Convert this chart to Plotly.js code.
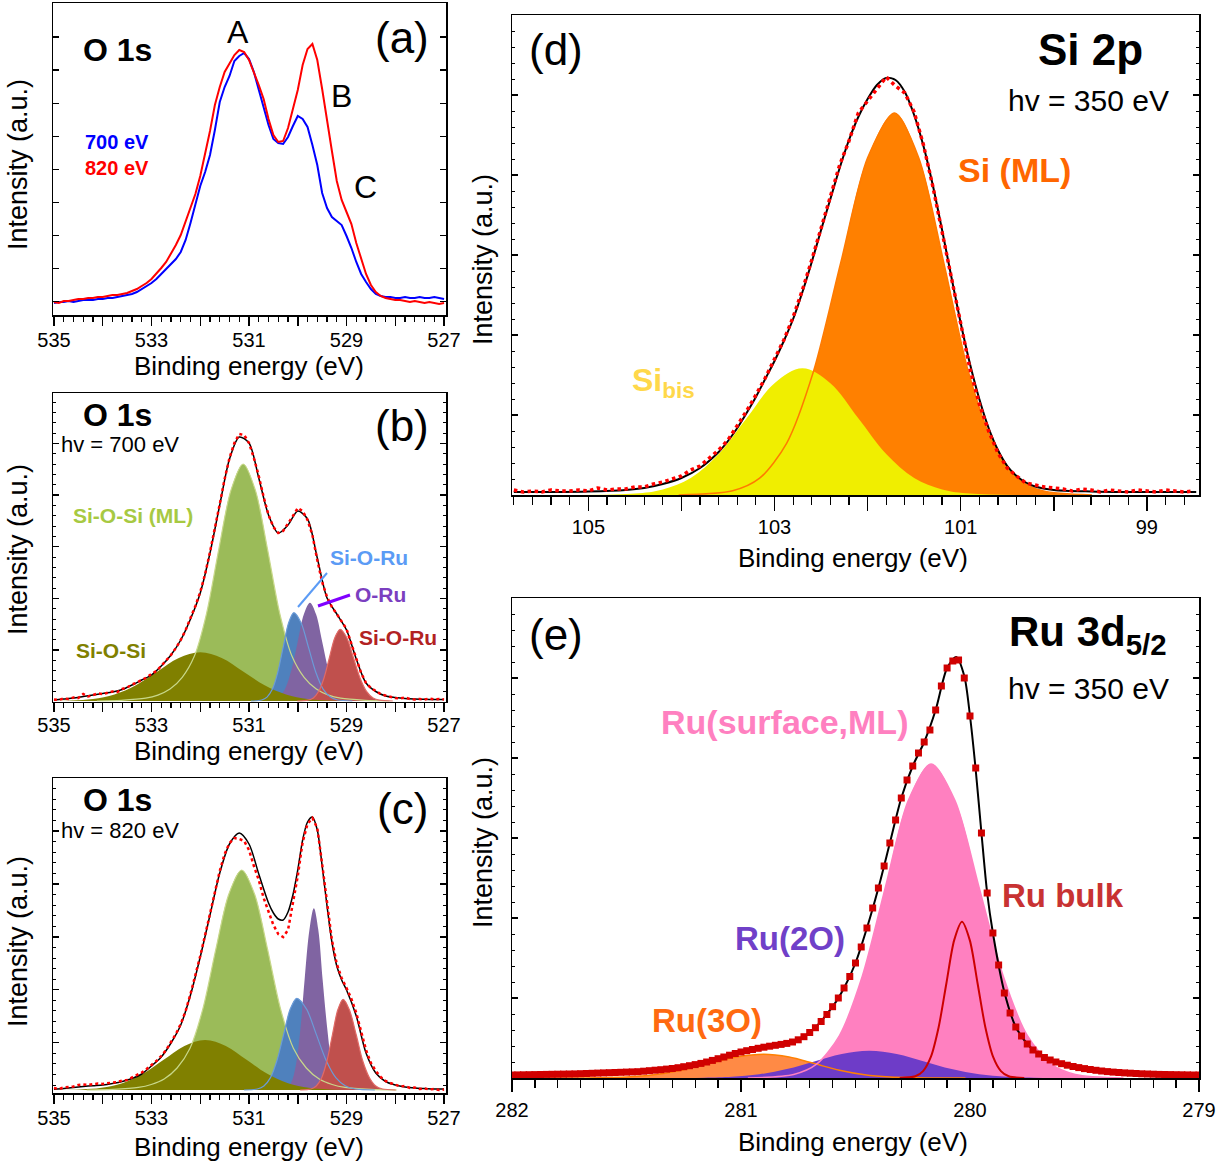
<!DOCTYPE html>
<html>
<head>
<meta charset="utf-8">
<script src="https://cdn.plot.ly/plotly-3.0.1.min.js"></script>
<style>html,body{margin:0;padding:0;background:#fff;}#chart{width:1228px;height:1164px;}</style>
</head>
<body>
<div id="chart"></div>
<script>
// ---------------- DATA ----------------
// O 1s binding-energy grid (eV)
const o1sE = [535,534.9,534.8,534.7,534.6,534.5,534.4,534.3,534.2,534.1,534,533.9,533.8,533.7,533.6,533.5,533.4,533.3,533.2,533.1,533,532.9,532.8,532.7,532.6,532.5,532.4,532.3,532.2,532.1,532,531.9,531.8,531.7,531.6,531.5,531.4,531.3,531.2,531.1,531,530.9,530.8,530.7,530.6,530.5,530.4,530.3,530.2,530.1,530,529.9,529.8,529.7,529.6,529.5,529.4,529.3,529.2,529.1,529,528.9,528.8,528.7,528.6,528.5,528.4,528.3,528.2,528.1,528,527.9,527.8,527.7,527.6,527.5,527.4,527.3,527.2,527.1,527];
// (a) raw spectra
const a_700eV = [12,13,13,14,13,14,15,15,15,16, 16,17,17,18,19,20,21,23,26,29, 32,36,41,47,51,56,63,75,92,110, 129,143,160,185,213,228,239,254,259,262, 256,243,226,207,190,176,172,171,178,189, 199,196,188,170,150,122,107,98,94,90, 79,67,53,41,33,26,21,19,18,18, 17,17,18,17,17,18,17,17,18,17,16];
const a_820eV = [13,12,14,14,15,16,16,17,17,18, 18,19,20,20,21,22,24,26,29,32, 36,41,47,53,61,70,80,93,106,121, 139,160,184,210,228,243,251,260,265,263, 255,243,230,216,196,180,173,174,187,206, 225,250,266,271,255,226,197,164,134,115, 103,91,72,56,41,30,23,19,17,16, 15,15,14,13,14,13,12,13,12,11,12];
// (b) hv = 700 eV : data and fit
const b_data = [1.5,1,2.5,2,3.5,3,7,4.5,6,7.5, 7,8.5,9.5,9,12,13.5,16.5,18.5,21,23.5, 27,30,35,40,46,53,61,71,83,95, 109,127,149,172,197,222,243,258,267,266, 258,243,225,204,186,174,168,170,177,185, 193,190,181,166,141,119,104,94,87,80, 72,57,42,28,18,13,10,7,5.5,4, 3,2.5,3.5,2,1.5,2,1.5,2.5,1.5,2,1.5];
const b_fitE = [535,534.8,534.6,534.4,534.2,534,533.8,533.6,533.4,533.2,533,532.8,532.6,532.4,532.2,532,531.8,531.6,531.4,531.2,531,530.8,530.6,530.4,530.2,530,529.8,529.6,529.4,529.2,529,528.8,528.6,528.4,528.2,528,527.8,527.6,527.4,527.2,527];
const b_fit = [1,2,3,4.5,6,7.5,9,11.5,16,21,26,35,46,61,82,108,148,196,242,264,258,223,186,168,176,190,182,143,103,87,71,42,18,9.5,5,3.5,2.5,2,1.7,1.5,1.5];
const b_SiOSiML_E = [528.12,528.62,529.12,529.37,529.62,529.87,530.12,530.37,530.62,530.87,531.12,531.37,531.62,531.87,532.12,532.37,532.62,532.87,533.12,533.62,534.12];
const b_SiOSiML   = [0,0.7,2.8,5.9,11.9,23.7,45,87.7,151.7,210.9,237,210.9,151.7,87.7,45,23.7,11.9,5.9,2.8,0.7,0];
const b_SiOSi_E = [528.48,529.36,529.8,530.24,530.68,531.12,531.56,532,532.44,532.88,533.32,533.76,534.2,534.64,535.52];
const b_SiOSi   = [0,0.5,2.1,6.6,15.8,29.5,43,48.7,43,29.5,15.8,6.6,2.1,0.5,0];
const b_SiORu1_E = [528.88,529.18,529.33,529.48,529.63,529.78,529.93,530.08,530.19,530.3,530.41,530.52,530.63,530.74,530.96];
const b_SiORu1   = [0,1,3.9,11.9,28.7,53.6,77.9,88.3,77.9,53.6,28.7,11.9,3.9,1,0];
const b_ORu_E = [528.75,529,529.125,529.25,529.375,529.5,529.625,529.75,529.875,530,530.125,530.25,530.375,530.5,530.75];
const b_ORu   = [0,1.1,4.3,13.3,31.9,59.6,86.7,98.3,86.7,59.6,31.9,13.3,4.3,1.1,0];
const b_SiORu2_E = [528.05,528.32,528.455,528.59,528.725,528.86,528.995,529.13,529.24,529.35,529.46,529.57,529.68,529.79,530.01];
const b_SiORu2   = [0,0.8,3.1,9.7,23.3,43.5,63.3,71.7,63.3,43.5,23.3,9.7,3.1,0.8,0];
// (c) hv = 820 eV : data and fit
const c_data = [2,1,2.5,3,3.5,5,5.5,5,6,6.5, 6,7,7.5,8,9.5,10,12.5,15,17.5,21, 25,29,34,40,48,56,66,79,96,114, 134,155,177,198,219,236,247,252,251,249, 240,224,210,192,178,165,156,153,160,186, 214,248,266,272,262,226,186,150,126,112, 102,91,77,58,40,27,19,13,9,7, 5.5,3.5,4,2,2.5,1,1.5,0.5,1,0,0.5];
const c_fitE = [535,534.8,534.6,534.4,534.2,534,533.8,533.6,533.4,533.2,533,532.8,532.6,532.4,532.2,532,531.8,531.6,531.4,531.2,531,530.8,530.6,530.5,530.4,530.3,530.2,530.1,530,529.9,529.8,529.7,529.6,529.5,529.4,529.3,529.2,529.1,529,528.8,528.6,528.4,528.2,528,527.8,527.6,527.4,527.2,527];
const c_fit = [0.7,1.5,2.5,3.5,4.3,5,6.5,8.5,11.5,16,24,33,47,65,95,133,175,217,246,257,246,216,187,177,171,170,178,195,220,250,268,273,260,224,184,148,124,110,100,74,37,17,8.5,5,3,2,1.5,1,1];
const c_SiOSiML_E = [527.97,528.5,529.03,529.295,529.56,529.825,530.09,530.355,530.62,530.885,531.15,531.415,531.68,531.945,532.21,532.475,532.74,533.005,533.27,533.8,534.33];
const c_SiOSiML   = [0,0.7,2.6,5.5,11,22,41.8,81.4,140.8,195.8,220,195.8,140.8,81.4,41.8,22,11,5.5,2.6,0.7,0];
const c_SiOSi_E = [528.5,529.35,529.775,530.2,530.625,531.05,531.475,531.9,532.325,532.75,533.175,533.6,534.025,534.45,535.3];
const c_SiOSi   = [0,0.6,2.2,6.8,16.2,30.3,44.1,50,44.1,30.3,16.2,6.8,2.2,0.6,0];
const c_SiORu1_E = [528.42,528.82,529.02,529.22,529.42,529.62,529.82,530.02,530.155,530.29,530.425,530.56,530.695,530.83,531.1];
const c_SiORu1   = [0,1,4,12.4,29.8,55.6,80.9,91.7,80.9,55.6,29.8,12.4,4,1,0];
const c_ORu_E = [528.93,529.12,529.21,529.3,529.39,529.49,529.58,529.67,529.76,529.86,529.95,530.04,530.13,530.23,530.41];
const c_ORu   = [0,2,8,24.6,59,110.2,160.4,181.7,160.4,110.2,59,24.6,8,2,0];
const c_SiORu2_E = [527.99,528.26,528.4,528.53,528.67,528.8,528.94,529.07,529.18,529.29,529.4,529.51,529.62,529.73,529.95];
const c_SiORu2   = [0,1,4,12.3,29.5,55,80,90.7,80,55,29.5,12.3,4,1,0];
// (d) Si 2p
const d_E = [105.8,105.7,105.6,105.5,105.4,105.3,105.2,105.1,105,104.9,104.8,104.7,104.6,104.5,104.4,104.3,104.2,104.1,104,103.9,103.8,103.7,103.6,103.5,103.4,103.3,103.2,103.1,103,102.9,102.8,102.7,102.6,102.5,102.4,102.3,102.2,102.1,102,101.9,101.8,101.7,101.6,101.5,101.4,101.3,101.2,101.1,101,100.9,100.8,100.7,100.6,100.5,100.4,100.3,100.2,100.1,100,99.9,99.8,99.7,99.6,99.5,99.4,99.3,99.2,99.1,99,98.9,98.8,98.7,98.6,98.5];
const d_data = [5,3,4,3,5,4,4,5,4,7, 5,6,6,8,8,11,13,16,19,25, 29,37,45,55,69,84,100,117,136,155, 178,205,235,266,299,330,354,382,394,406, 418,409,402,383,350,309,263,216,168,126, 91,64,42,27,19,12,10,8,7,6, 4,6,5,3,5,4,3,5,4,3, 5,4,3,4];
const d_fitE = [105.8,105.4,105,104.6,104.4,104.2,104,103.8,103.6,103.5,103.4,103.3,103.2,103.1,103,102.9,102.8,102.7,102.6,102.5,102.4,102.3,102.2,102.1,102,101.9,101.8,101.7,101.6,101.5,101.4,101.3,101.2,101.1,101,100.9,100.8,100.7,100.6,100.5,100.4,100.3,100.2,100,99.6,99.2,98.8,98.47];
const d_fit = [3,3,3.5,5,7,11,17,27,43,54,67,82,98,116,134,154,176,203,233,265,296,327,355,378,396,410,417,415,403,380,349,310,265,218,172,131,96,67,45,29,19,12.5,8.5,5,3.5,3,3,3];
const d_SiML_E = [99.59,100.12,100.39,100.65,100.92,101.18,101.45,101.71,102,102.29,102.58,102.87,103.16,103.45,104.03];
const d_SiML   = [0,4.2,16.8,51.7,124,231.7,337.1,382,337.1,231.7,124,51.7,16.8,4.2,0];
const d_Sibis_E = [100.3,100.9,101.2,101.5,101.8,102.1,102.4,102.7,103,103.3,103.6,103.9,104.2,104.5,105.1];
const d_Sibis   = [0,1.4,5.6,17.1,41.1,76.8,111.8,126.7,111.8,76.8,41.1,17.1,5.6,1.4,0];
// (e) Ru 3d5/2
const e_E = [282,281.975,281.95,281.925,281.9,281.875,281.85,281.825,281.8,281.775,
281.75,281.725,281.7,281.675,281.65,281.625,281.6,281.575,281.55,281.525,
281.5,281.475,281.45,281.425,281.4,281.375,281.35,281.325,281.3,281.275,
281.25,281.225,281.2,281.175,281.15,281.125,281.1,281.075,281.05,281.025,
281,280.975,280.95,280.925,280.9,280.875,280.85,280.825,280.8,280.775,
280.75,280.725,280.7,280.675,280.65,280.625,280.6,280.575,280.55,280.525,
280.5,280.475,280.45,280.425,280.4,280.375,280.35,280.325,280.3,280.275,
280.25,280.225,280.2,280.175,280.15,280.125,280.1,280.075,280.05,280.025,
280,279.975,279.95,279.925,279.9,279.875,279.85,279.825,279.8,279.775,
279.75,279.725,279.7,279.675,279.65,279.625,279.6,279.575,279.55,279.525,
279.5,279.475,279.45,279.425,279.4,279.375,279.35,279.325,279.3,279.275,
279.25,279.225,279.2,279.175,279.15,279.125,279.1,279.075,279.05,279.025,279];
const e_data = [3,3.1,3.2,3.3,3.4,3.5,3.6,3.7,3.8,3.9,
4,4.1,4.3,4.5,4.7,4.9,5.1,5.3,5.5,5.7,
5.9,6.1,6.3,6.8,7.3,7.8,8.3,8.9,9.5,10.3,
11.3,12.3,13.4,14.6,16,17.6,19.3,21,22.8,24.5,
26,27.3,28.5,29.7,30.8,31.8,32.7,33.6,34.6,36,
38.2,41.3,45.5,50.3,56.5,63.5,71.3,80,90,101.5,
115,131,150,170,190,212,235,258,280,298,
312,325,336,348,368,392,410,417,418,400,
362,310,245,185,145,113,85,65,51,42,
34,28,24,20.5,18,16,14.3,12.8,11.5,10.4,
9.4,8.5,7.7,7,6.4,5.9,5.5,5.1,4.8,4.5,
4.2,4,3.8,3.6,3.5,3.4,3.3,3.2,3.1,3,3];
const e_fitE = [282,281.8,281.6,281.4,281.3,281.2,281.1,281,280.9,280.8,280.7,280.6,280.55,280.5,280.45,280.4,280.35,280.3,280.25,280.2,280.15,280.1,280.06,280.025,280,279.975,279.95,279.925,279.9,279.85,279.8,279.75,279.7,279.6,279.5,279.4,279.2,279];
const e_fit = [3,3.8,5.1,7.3,9.5,13.4,19.3,26,30.8,34.6,45.5,71.3,90,115,150,190,235,280,312,336,368,410,421,402,362,308,245,185,145,86,51,34,24,14.3,9.4,6.4,3.8,3];
const e_surf_E = [279.33,279.54,279.645,279.75,279.855,279.96,280.065,280.17,280.27,280.37,280.47,280.57,280.67,280.77,280.97];
const e_surf   = [0,3.5,13.8,42.5,102,190.4,277.1,314,277.1,190.4,102,42.5,13.8,3.5,0];
const e_bulk_E = [279.763,279.831,279.865,279.899,279.933,279.967,280.001,280.035,280.069,280.103,280.137,280.171,280.205,280.239,280.307];
const e_bulk   = [0,1.7,6.9,21.1,50.8,94.8,137.9,156.3,137.9,94.8,50.8,21.1,6.9,1.7,0];
const e_2O_E = [279.48,279.72,279.84,279.96,280.08,280.2,280.32,280.44,280.56,280.68,280.8,280.92,281.04,281.16,281.4];
const e_2O   = [0,0.3,1.2,3.7,8.9,16.6,24.1,27.3,24.1,16.6,8.9,3.7,1.2,0.3,0];
const e_3O_E = [280.02,280.24,280.35,280.46,280.57,280.68,280.79,280.9,281.02,281.14,281.26,281.38,281.5,281.62,281.86];
const e_3O   = [0,0.3,1,3.2,7.7,14.4,20.9,23.7,20.9,14.4,7.7,3.2,1,0.3,0];
// tick labels
const o1sTickVals = [535,534,533,532,531,530,529,528,527];
const o1sTickText = ['535',' ','533',' ','531',' ','529',' ','527'];
const siTickVals = [105,104,103,102,101,100,99];
const siTickText = ['105',' ','103',' ','101',' ','99'];
const ruTickVals = [282,281,280,279];
const ruTickText = ['282','281','280','279'];

// ---------------- HELPERS ----------------
const W = 1228, H = 1164;
const FONT = 'Liberation Sans, Arial, Helvetica, sans-serif';
const px = v => v / W, py = v => 1 - v / H;

function fillT(x, y, color, n) {
  return {x, y, xaxis: 'x' + n, yaxis: 'y' + n, mode: 'lines', type: 'scatter',
    line: {width: 0, shape: 'spline', smoothing: 1, color}, fill: 'tozeroy', fillcolor: color,
    hoverinfo: 'skip', showlegend: false};
}
function lineT(x, y, color, width, n, shape, dash) {
  return {x, y, xaxis: 'x' + n, yaxis: 'y' + n, mode: 'lines', type: 'scatter',
    line: {width, color, shape: shape || 'spline', smoothing: 0.8, dash: dash || 'solid'},
    hoverinfo: 'skip', showlegend: false};
}
const N = {a: '', b: '2', c: '3', d: '4', e: '5'};

const traces = [
  // (a)
  lineT(o1sE, a_700eV, '#0000FF', 2, N.a, 'linear'),
  lineT(o1sE, a_820eV, '#FF0000', 2, N.a, 'linear'),
  // (b)
  fillT(b_SiOSiML_E, b_SiOSiML, '#9BBB59', N.b),
  fillT(b_SiORu1_E, b_SiORu1, '#4F81BD', N.b),
  fillT(b_ORu_E, b_ORu, '#8064A2', N.b),
  fillT(b_SiORu2_E, b_SiORu2, '#C0504D', N.b),
  fillT(b_SiOSi_E, b_SiOSi, '#808000', N.b),
  lineT(b_SiOSiML_E, b_SiOSiML, '#C8D88A', 1.2, N.b),
  lineT(b_SiORu1_E, b_SiORu1, '#6A9BD8', 1.2, N.b),
  lineT(b_SiORu2_E, b_SiORu2, '#E06A66', 1.2, N.b),
  lineT(b_fitE, b_fit, '#000000', 1.5, N.b),
  lineT(o1sE, b_data, '#FF0000', 2.5, N.b, 'linear', 'dot'),
  // (c)
  fillT(c_SiOSiML_E, c_SiOSiML, '#9BBB59', N.c),
  fillT(c_SiORu1_E, c_SiORu1, '#4F81BD', N.c),
  fillT(c_ORu_E, c_ORu, '#8064A2', N.c),
  fillT(c_SiORu2_E, c_SiORu2, '#C0504D', N.c),
  fillT(c_SiOSi_E, c_SiOSi, '#808000', N.c),
  lineT(c_SiOSiML_E, c_SiOSiML, '#C8D88A', 1.2, N.c),
  lineT(c_SiORu1_E, c_SiORu1, '#6A9BD8', 1.2, N.c),
  lineT(c_SiORu2_E, c_SiORu2, '#E06A66', 1.2, N.c),
  lineT(c_fitE, c_fit, '#000000', 1.5, N.c),
  lineT(o1sE, c_data, '#FF0000', 2.5, N.c, 'linear', 'dot'),
  // (d)
  fillT(d_SiML_E, d_SiML, '#FF8000', N.d),
  fillT(d_Sibis_E, d_Sibis, '#F0EE00', N.d),
  lineT(d_SiML_E, d_SiML, '#FF7A00', 1.5, N.d),
  lineT(d_fitE, d_fit, '#000000', 2, N.d),
  lineT(d_E, d_data, '#FF0000', 3.5, N.d, 'linear', 'dot'),
  // (e)
  fillT(e_surf_E, e_surf, '#FF80C0', N.e),
  fillT(e_3O_E, e_3O, '#FF8A45', N.e),
  fillT(e_2O_E, e_2O, '#6E3CC8', N.e),
  lineT(e_3O_E, e_3O, '#FF8000', 1.5, N.e),
  lineT(e_surf_E, e_surf, '#FF80C0', 1.5, N.e),
  lineT(e_bulk_E, e_bulk, '#CC0000', 2, N.e),
  lineT(e_fitE, e_fit, '#000000', 2, N.e, 'spline'),
  {x: e_E, y: e_data, xaxis: 'x5', yaxis: 'y5', mode: 'markers', type: 'scatter',
   marker: {symbol: 'square', size: 7, color: '#D00000', line: {width: 0}}, hoverinfo: 'skip', showlegend: false}
];

// ---------------- AXES ----------------
function xAx(left, right, range, vals, text, minorDtick, ticklen, minorLen, standoff, n) {
  return {domain: [px(left), px(right)], range, anchor: 'y' + n, tickmode: 'array', tickvals: vals, ticktext: text,
    ticks: 'outside', ticklen, tickwidth: 1.5, tickcolor: '#000',
    minor: {tickmode: 'linear', tick0: vals[vals.length - 1], dtick: minorDtick, ticks: 'outside', ticklen: minorLen, tickwidth: 1.2, tickcolor: '#000', showgrid: false},
    showline: true, mirror: true, linecolor: '#000', linewidth: 1.5,
    showgrid: false, zeroline: false, tickfont: {family: FONT, size: 20, color: '#000'}, ticklabelstandoff: standoff};
}
function yAx(top, bottom, range, tick0, dtick, minorDtick, n) {
  const ax = {domain: [py(bottom), py(top)], range, anchor: 'x' + n, tickmode: 'linear', tick0, dtick,
    ticks: 'inside', ticklen: 6, tickwidth: 1.3, tickcolor: '#000', showticklabels: false,
    showline: true, mirror: 'ticks', linecolor: '#000', linewidth: 1.5, showgrid: false, zeroline: false};
  if (minorDtick) ax.minor = {tickmode: 'linear', tick0, dtick: minorDtick, ticks: 'inside', ticklen: 3, tickwidth: 1, tickcolor: '#000', showgrid: false};
  return ax;
}

const layout = {
  width: W, height: H, margin: {l: 0, r: 0, t: 0, b: 0}, paper_bgcolor: '#fff', plot_bgcolor: '#fff',
  font: {family: FONT, color: '#000'}, showlegend: false,
  xaxis:  xAx(53, 446, [535.02, 526.96], o1sTickVals, o1sTickText, 0.2, 9, 5, -3, N.a),
  yaxis:  yAx(3.3, 315, [0, 311.7], 46.3, 33.1, null, N.a),
  xaxis2: xAx(53, 446, [535.02, 526.96], o1sTickVals, o1sTickText, 0.2, 9, 5, -4, N.b),
  yaxis2: yAx(393.3, 701.7, [-0.7, 307.7], 51, 51.67, 10.33, N.b),
  xaxis3: xAx(53, 446, [535.02, 526.96], o1sTickVals, o1sTickText, 0.2, 9, 5, -3, N.c),
  yaxis3: yAx(778.3, 1093.3, [-3.3, 311.7], 47.3, 52.9, 10.58, N.c),
  xaxis4: xAx(512, 1199, [105.82, 98.44], siTickVals, siTickText, 0.2, 14, 8, -1, N.d),
  yaxis4: yAx(15, 495, [0, 480], 0, 80, 16, N.d),
  xaxis5: xAx(512, 1199, [282, 279], ruTickVals, ruTickText, 0.1, 12, 8, 1, N.e),
  yaxis5: yAx(598, 1078, [0, 480], 0, 80, 16, N.e),
  annotations: [],
  shapes: [
    {type: 'line', xref: 'paper', yref: 'paper', x0: px(327), y0: py(573), x1: px(298), y1: py(607), line: {color: '#5B9BF5', width: 2}},
    {type: 'line', xref: 'paper', yref: 'paper', x0: px(350), y0: py(595), x1: px(318), y1: py(606), line: {color: '#8000FF', width: 3}}
  ]
};

function ann(text, x, y, size, color, opts) {
  layout.annotations.push(Object.assign({text, x: px(x), y: py(y), xref: 'paper', yref: 'paper',
    xanchor: 'center', yanchor: 'middle', showarrow: false,
    font: {family: FONT, size, color: color || '#000'}}, opts || {}));
}
// (a)
ann('<b>O 1s</b>', 117, 50, 32);
ann('(a)', 402, 37, 44);
ann('A', 238, 32, 32);
ann('B', 341, 96, 32);
ann('C', 365, 187, 32);
ann('<b>700 eV</b>', 117, 142, 20, '#0000FF');
ann('<b>820 eV</b>', 117, 168, 20, '#FF0000');
ann('Intensity (a.u.)', 18, 165, 27, '#000', {textangle: -90});
ann('Binding energy (eV)', 249, 366, 26);
// (b)
ann('<b>O 1s</b>', 117, 415, 32);
ann('hv = 700 eV', 59, 445, 22, '#000', {xanchor: 'left'});
ann('(b)', 402, 425, 44);
ann('<b>Si-O-Si (ML)</b>', 133, 515, 21, '#A7C942');
ann('<b>Si-O-Si</b>', 111, 650, 21, '#808000');
ann('<b>Si-O-Ru</b>', 369, 557, 21, '#5B9BF5');
ann('<b>O-Ru</b>', 380, 594, 21, '#7B3FC0');
ann('<b>Si-O-Ru</b>', 398, 637, 21, '#B22222');
ann('Intensity (a.u.)', 18, 550, 27, '#000', {textangle: -90});
ann('Binding energy (eV)', 249, 751, 26);
// (c)
ann('<b>O 1s</b>', 117, 800, 32);
ann('hv = 820 eV', 59, 830, 22, '#000', {xanchor: 'left'});
ann('(c)', 402, 808, 44);
ann('Intensity (a.u.)', 18, 942, 27, '#000', {textangle: -90});
ann('Binding energy (eV)', 249, 1147, 26);
// (d)
ann('(d)', 556, 50, 44);
ann('<b>Si 2p</b>', 1090, 50, 44);
ann('hv = 350 eV', 1088, 100, 30);
ann('<b>Si (ML)</b>', 1014, 170, 34, '#FF6600');
ann('<b>Si<sub>bis</sub></b>', 663, 383, 32, '#FFD84A');
ann('Intensity (a.u.)', 483, 260, 27, '#000', {textangle: -90});
ann('Binding energy (eV)', 853, 558, 26);
// (e)
ann('(e)', 556, 635, 44);
ann('<b>Ru 3d<sub>5/2</sub></b>', 1088, 635, 42);
ann('hv = 350 eV', 1088, 688, 30);
ann('<b>Ru(surface,ML)</b>', 785, 722, 34, '#FF80C0');
ann('<b>Ru bulk</b>', 1063, 895, 33, '#C83232');
ann('<b>Ru(2O)</b>', 790, 938, 33, '#7040C8');
ann('<b>Ru(3O)</b>', 707, 1020, 33, '#FF6A10');
ann('Intensity (a.u.)', 483, 843, 27, '#000', {textangle: -90});
ann('Binding energy (eV)', 853, 1142, 26);

Plotly.newPlot('chart', traces, layout, {staticPlot: true, displayModeBar: false});
</script>
</body>
</html>
